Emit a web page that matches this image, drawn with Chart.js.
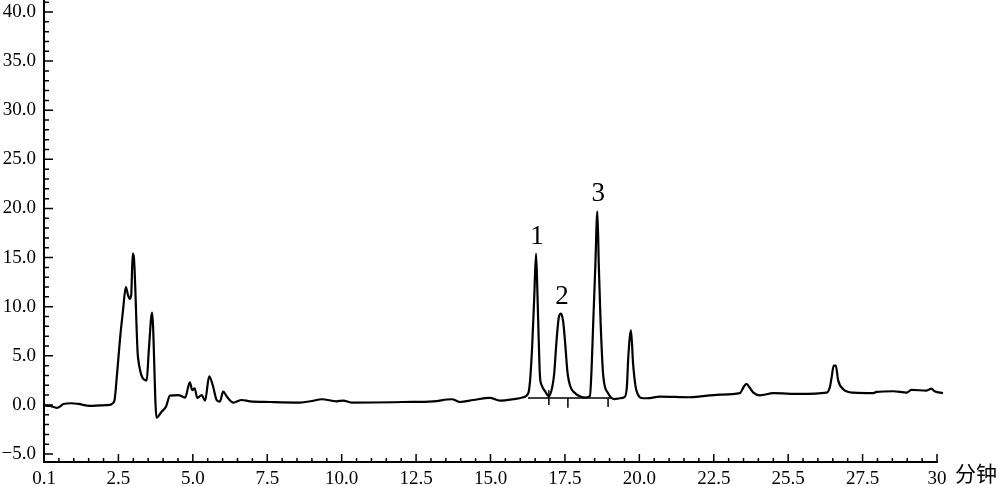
<!DOCTYPE html>
<html lang="zh">
<head>
<meta charset="UTF-8">
<script src="https://cdn.jsdelivr.net/npm/chart.js@4.4.0/dist/chart.umd.min.js"></script>
<title>色谱图</title>
<style>body{margin:0;background:#fff}</style>
</head>
<body>
<canvas id="myChart" width="1007" height="486"></canvas>
<script>
// retention time (min) and detector signal
var times = [0.0, 0.2, 0.43, 0.55, 0.65, 0.93, 1.15, 1.55, 1.9, 2.22, 2.3, 2.37, 2.45, 2.55, 2.65, 2.75, 2.82, 2.88, 2.93, 2.98, 3.02, 3.16, 3.45, 3.52, 3.63, 3.78, 3.95, 4.1, 4.23, 4.51, 4.74, 4.9, 4.98, 5.06, 5.15, 5.3, 5.41, 5.55, 5.67, 5.8, 5.91, 6.02, 6.14, 6.36, 6.64, 6.92, 7.59, 8.6, 9.0, 9.33, 9.83, 10.05, 10.33, 12.07, 13.08, 13.7, 13.97, 14.42, 14.98, 15.32, 15.76, 16.1, 16.27, 16.33, 16.4, 16.47, 16.53, 16.58, 16.62, 16.66, 16.72, 16.83, 16.96, 17.08, 17.14, 17.22, 17.3, 17.37, 17.44, 17.5, 17.59, 17.68, 17.78, 18.06, 18.2, 18.34, 18.4, 18.45, 18.52, 18.59, 18.64, 18.7, 18.79, 18.95, 19.17, 19.35, 19.5, 19.58, 19.63, 19.72, 19.79, 19.9, 20.13, 20.35, 20.69, 21.7, 22.7, 23.38, 23.5, 23.6, 23.7, 23.83, 24.05, 24.5, 25.4, 26.29, 26.4, 26.46, 26.53, 26.6, 26.68, 26.85, 27.19, 27.86, 27.97, 28.53, 28.98, 29.14, 29.65, 29.81, 29.92, 30.2];
var signal = [-0.05, -0.1, -0.3, -0.15, 0.1, 0.17, 0.1, -0.1, -0.05, 0.0, 0.15, 0.5, 3.0, 6.6, 9.5, 12.0, 11.2, 10.8, 11.2, 15.4, 15.0, 4.75, 2.5, 5.5, 9.4, -1.3, -0.7, -0.17, 0.95, 1.0, 0.75, 2.3, 1.5, 1.7, 0.7, 1.0, 0.44, 2.9, 2.0, 0.5, 0.34, 1.36, 0.85, 0.24, 0.5, 0.37, 0.3, 0.24, 0.4, 0.58, 0.37, 0.44, 0.24, 0.3, 0.37, 0.58, 0.3, 0.5, 0.71, 0.44, 0.58, 0.78, 1.2, 2.5, 6.0, 11.0, 15.4, 11.0, 6.6, 3.0, 2.0, 1.4, 0.9, 1.9, 3.2, 6.6, 9.0, 9.3, 8.5, 6.6, 3.2, 1.9, 1.36, 0.8, 0.75, 0.9, 4.0, 8.3, 14.0, 19.7, 14.0, 8.3, 2.9, 1.2, 0.6, 0.68, 0.8, 1.8, 4.9, 7.6, 4.2, 1.5, 0.68, 0.7, 0.85, 0.78, 1.05, 1.2, 1.8, 2.14, 1.8, 1.25, 0.98, 1.2, 1.12, 1.25, 1.8, 2.8, 4.0, 4.0, 2.5, 1.6, 1.25, 1.2, 1.32, 1.39, 1.25, 1.53, 1.46, 1.66, 1.4, 1.2];

// axis ticks
var xTicks = [0, 2.5, 5, 7.5, 10, 12.5, 15, 17.5, 20, 22.5, 25, 27.5, 30];
var xTickLabels = ['0.1', '2.5', '5.0', '7.5', '10.0', '12.5', '15.0', '17.5', '20.0', '22.5', '25.5', '27.5', '30'];
var yTicks = [-5, 0, 5, 10, 15, 20, 25, 30, 35, 40];
var yTickLabels = ['\u22125.0', '0.0', '5.0', '10.0', '15.0', '20.0', '25.0', '30.0', '35.0', '40.0'];
var xMinorStep = 0.5;
var yMinorStep = 1;
var xUnit = '分钟';

// numbered peaks
var peakNames = ['1', '2', '3'];
var peakTimes = [16.53, 17.37, 18.59];
var peakHeights = [15.4, 9.3, 19.7];

// integration baseline and split marks
var baseTimes = [16.26, 19.08];
var baseLevel = 0.7;
var splitTimes = [16.96, 17.6, 18.95];
var splitTop = [1.5, 0.7, 0.7];
var splitBottom = [0.0, -0.3, -0.2];

var trace = times.map(function (t, i) { return { x: t, y: signal[i] }; });

var datasets = [{
    data: trace,
    borderColor: '#000',
    borderWidth: 2.2,
    pointRadius: 0,
    cubicInterpolationMode: 'monotone',
    clip: false
}, {
    data: baseTimes.map(function (t) { return { x: t, y: baseLevel }; }),
    borderColor: '#000',
    borderWidth: 1.5,
    pointRadius: 0
}];
splitTimes.forEach(function (t, i) {
    datasets.push({
        data: [{ x: t, y: splitTop[i] }, { x: t, y: splitBottom[i] }],
        borderColor: '#000',
        borderWidth: 1.5,
        pointRadius: 0
    });
});

// inward ticks, peak numbers and the unit text
var decor = {
    id: 'decor',
    afterDraw: function (chart) {
        var ctx = chart.ctx, xs = chart.scales.x, ys = chart.scales.y;
        var area = chart.chartArea;
        ctx.save();
        ctx.strokeStyle = '#000';
        ctx.lineWidth = 1.5;
        ctx.beginPath();
        var n = Math.round((xs.max - 0) / xMinorStep);
        for (var i = 0; i <= n; i++) {
            var px = xs.getPixelForValue(i * xMinorStep);
            var len = (i % 5 === 0) ? 8 : 4;
            ctx.moveTo(px, area.bottom);
            ctx.lineTo(px, area.bottom - len);
        }
        for (var v = -5; v <= 41; v += yMinorStep) {
            var py = ys.getPixelForValue(v);
            var l = (v % 5 === 0) ? 9 : 5;
            ctx.moveTo(area.left, py);
            ctx.lineTo(area.left + l, py);
        }
        ctx.stroke();

        ctx.fillStyle = '#000';
        ctx.font = '27px "Liberation Serif", "Times New Roman", serif';
        ctx.textAlign = 'center';
        ctx.textBaseline = 'alphabetic';
        peakNames.forEach(function (name, k) {
            ctx.fillText(name, xs.getPixelForValue(peakTimes[k]) + 1, ys.getPixelForValue(peakHeights[k]) - 10);
        });

        ctx.font = '21px "Noto Sans CJK SC", sans-serif';
        ctx.textAlign = 'left';
        ctx.textBaseline = 'middle';
        ctx.fillText(xUnit, xs.right + 18, area.bottom + 11);
        ctx.restore();
    }
};

var tickFont = { family: '"Liberation Serif", "Times New Roman", serif', size: 19 };

var ctx = document.getElementById('myChart').getContext('2d');
var myChart = new Chart(ctx, {
    type: 'line',
    data: { datasets: datasets },
    options: {
        responsive: false,
        animation: false,
        layout: { padding: { left: 0, top: 0, right: 70, bottom: 0 } },
        plugins: { legend: { display: false }, tooltip: { enabled: false } },
        scales: {
            x: {
                type: 'linear',
                min: 0,
                max: 30,
                afterBuildTicks: function (scale) {
                    scale.ticks = xTicks.map(function (v) { return { value: v }; });
                },
                afterFit: function (scale) {
                    scale.height = 24;
                    scale.paddingLeft = 0;
                    scale.paddingRight = 0;
                },
                ticks: {
                    autoSkip: false,
                    maxRotation: 0,
                    padding: 6,
                    color: '#000',
                    font: tickFont,
                    callback: function (value) {
                        var k = xTicks.indexOf(value);
                        return k >= 0 ? xTickLabels[k] : '';
                    }
                },
                grid: { display: true, drawOnChartArea: false, drawTicks: false },
                border: { display: true, color: '#000', width: 2 }
            },
            y: {
                type: 'linear',
                min: -5.81,
                max: 41.22,
                afterBuildTicks: function (scale) {
                    scale.ticks = yTicks.map(function (v) { return { value: v }; });
                },
                afterFit: function (scale) {
                    scale.width = 44;
                    scale.paddingTop = 0;
                    scale.paddingBottom = 0;
                },
                ticks: {
                    autoSkip: false,
                    padding: 8,
                    color: '#000',
                    font: tickFont,
                    callback: function (value) {
                        var k = yTicks.indexOf(value);
                        return k >= 0 ? yTickLabels[k] : '';
                    }
                },
                grid: { display: true, drawOnChartArea: false, drawTicks: false },
                border: { display: true, color: '#000', width: 2 }
            }
        }
    },
    plugins: [decor]
});
</script>
</body>
</html>
